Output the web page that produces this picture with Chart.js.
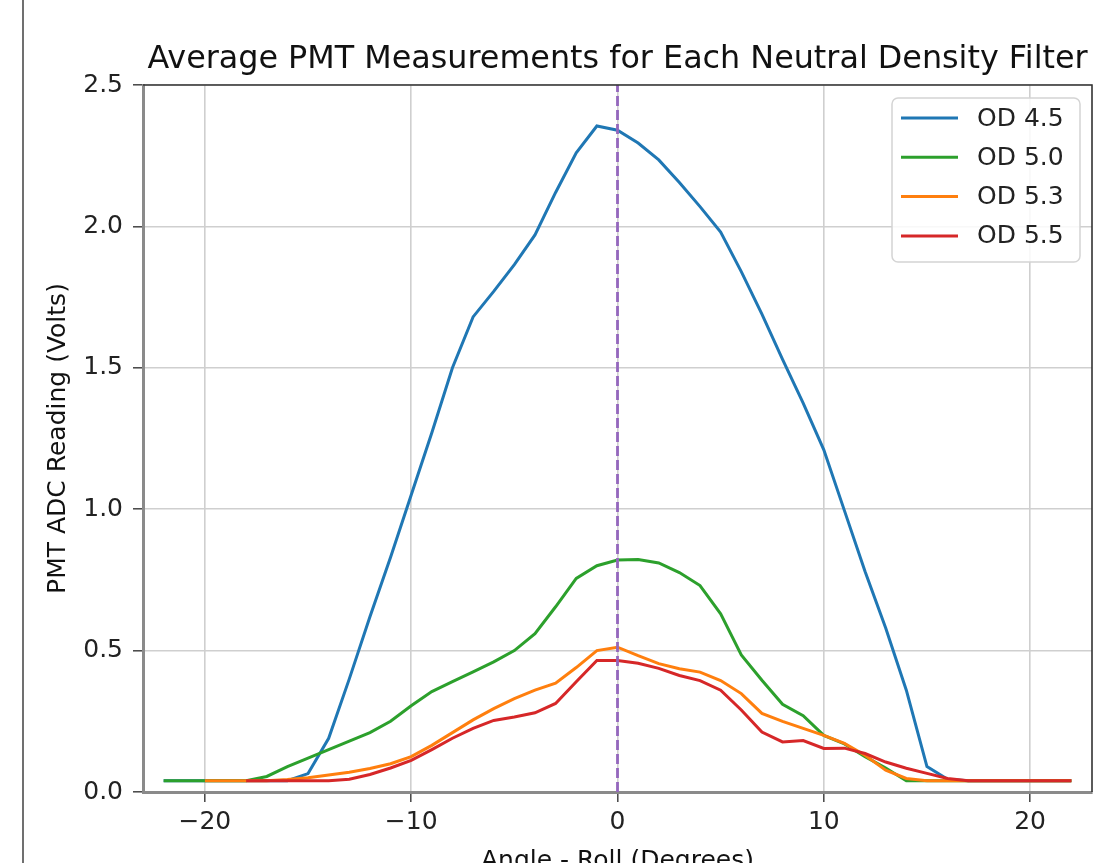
<!DOCTYPE html>
<html><head><meta charset="utf-8">
<script src="https://cdn.jsdelivr.net/npm/chart.js@4.4.1/dist/chart.umd.min.js"></script>
<style>
html,body{margin:0;padding:0;background:#fff;}
#wrap{position:relative;width:1097px;height:863px;overflow:hidden;background:#fff;}
#edge{position:absolute;left:22px;top:0;width:2px;height:863px;background:#707070;}
canvas{position:absolute;left:0;top:0;}
</style></head><body>
<div id="wrap"><canvas id="c" width="1097" height="863"></canvas><div id="edge"></div></div>
<script>
const angles = [-22,-21,-20,-19,-18,-17,-16,-15,-14,-13,-12,-11,-10,-9,-8,-7,-6,-5,-4,-3,-2,-1,0,1,2,3,4,5,6,7,8,9,10,11,12,13,14,15,16,17,18,19,20,21,22];
const od45 = [0.04,0.04,0.04,0.04,0.04,0.04,0.04,0.065,0.19,0.40,0.62,0.83,1.05,1.27,1.50,1.68,1.77,1.865,1.97,2.12,2.26,2.355,2.34,2.295,2.235,2.155,2.07,1.98,1.84,1.69,1.53,1.375,1.21,0.995,0.78,0.58,0.36,0.09,0.045,0.04,0.04,0.04,0.04,0.04,0.04];
const od50 = [0.04,0.04,0.04,0.04,0.04,0.055,0.09,0.12,0.15,0.18,0.21,0.25,0.305,0.355,0.39,0.425,0.46,0.50,0.56,0.655,0.755,0.80,0.82,0.822,0.81,0.776,0.73,0.63,0.485,0.395,0.31,0.27,0.20,0.17,0.125,0.085,0.04,0.04,0.04,0.04,0.04,0.04,0.04,0.04,0.04];
const od53 = [null,null,0.04,0.04,0.04,0.04,0.044,0.05,0.06,0.07,0.083,0.10,0.125,0.165,0.21,0.255,0.295,0.33,0.36,0.385,0.44,0.50,0.512,0.482,0.454,0.436,0.424,0.394,0.348,0.278,0.25,0.225,0.20,0.172,0.13,0.077,0.048,0.04,0.04,0.04,0.04,0.04,0.04,0.04,0.04];
const od55 = [null,null,null,null,0.04,0.04,0.04,0.04,0.04,0.045,0.062,0.085,0.112,0.15,0.19,0.225,0.253,0.265,0.28,0.313,0.39,0.465,0.465,0.455,0.437,0.412,0.394,0.36,0.29,0.212,0.177,0.182,0.154,0.155,0.136,0.106,0.084,0.066,0.048,0.04,0.04,0.04,0.04,0.04,0.04];
const seriesNames = ['OD 4.5','OD 5.0','OD 5.3','OD 5.5'];
const seriesColors = ['#1f77b4','#2ca02c','#ff7f0e','#d62728'];
const xTicks = [-20,-10,0,10,20];
const yTicks = [0.0,0.5,1.0,1.5,2.0,2.5];
const centerAngle = [0, 0];
const centerSpan = [0, 2.5];
const titleText = 'Average PMT Measurements for Each Neutral Density Filter';
const xLabel = 'Angle - Roll (Degrees)';
const yLabel = 'PMT ADC Reading (Volts)';

const FONT = "'DejaVu Sans', sans-serif";
function pts(vals){ return angles.map((a,i)=>({x:a,y:vals[i]})); }
const allSeries = [od45, od50, od53, od55];
const datasets = allSeries.map((s,i)=>({
  label: seriesNames[i], data: pts(s), borderColor: seriesColors[i], backgroundColor: seriesColors[i],
  borderWidth: 3, pointRadius: 0, tension: 0, spanGaps: false, order: 4 - i, fill: false
}));
datasets.push({label:'_center', data: centerAngle.map((a,i)=>({x:a,y:centerSpan[i]})), borderColor:'#9467bd',
  borderWidth: 2.8, borderDash:[10,4], pointRadius:0, order:0, fill:false});

const decor = {
  id:'decor',
  afterDatasetsDraw(chart){
    const {ctx, chartArea:a} = chart;
    ctx.save();
    ctx.strokeStyle = '#333'; ctx.lineWidth = 1.6;
    ctx.beginPath(); ctx.moveTo(a.left, a.top); ctx.lineTo(a.right, a.top); ctx.lineTo(a.right, a.bottom); ctx.stroke();
    const bw = 188, bh = 164;
    const bx = a.right - 12 - bw, by = a.top + 13;
    ctx.fillStyle = 'rgba(255,255,255,0.85)';
    ctx.strokeStyle = '#d4d4d4'; ctx.lineWidth = 1.5;
    ctx.beginPath(); ctx.roundRect(bx, by, bw, bh, 6); ctx.fill(); ctx.stroke();
    ctx.font = '25px ' + FONT; ctx.textBaseline = 'middle'; ctx.textAlign = 'left';
    seriesNames.forEach((n,i)=>{
      const yy = by + 20 + i*39.3;
      ctx.strokeStyle = seriesColors[i]; ctx.lineWidth = 3;
      ctx.beginPath(); ctx.moveTo(bx+9, yy); ctx.lineTo(bx+66, yy); ctx.stroke();
      ctx.fillStyle = '#222'; ctx.fillText(n, bx+85, yy+1);
    });
    ctx.fillStyle = '#111'; ctx.textAlign = 'center'; ctx.textBaseline = 'alphabetic';
    ctx.font = '31.8px ' + FONT;
    ctx.fillText(titleText, (a.left+a.right)/2, 68);
    ctx.font = '25px ' + FONT;
    ctx.fillText(xLabel, (a.left+a.right)/2, 868);
    ctx.translate(65, (a.top+a.bottom)/2); ctx.rotate(-Math.PI/2);
    ctx.fillText(yLabel, 0, 0);
    ctx.restore();
  }
};

new Chart(document.getElementById('c'), {
  type:'line',
  data:{ datasets },
  options:{
    responsive:false, devicePixelRatio:1, animation:false,
    layout:{ padding:{ left:0, right:5, top:85, bottom:0 } },
    plugins:{ legend:{display:false}, tooltip:{enabled:false}, title:{display:false} },
    scales:{
      x:{ type:'linear', min:-23, max:23,
        afterFit(s){ s.height = 71; },
        afterBuildTicks(s){ s.ticks = xTicks.map(v=>({value:v})); },
        ticks:{ includeBounds:false, padding:5, color:'#222', font:{family:FONT,size:25},
          callback:(v)=> v<0 ? '\u2212'+Math.abs(v) : String(v), maxRotation:0 },
        grid:{ color:'#cfcfcf', lineWidth:1.6, tickLength:10, tickColor:'#444', tickWidth:1.5 },
        border:{ color:'#8a8a8a', width:3 }
      },
      y:{ type:'linear', min:0, max:2.5,
        afterFit(s){ s.width = 143; },
        afterBuildTicks(s){ s.ticks = yTicks.map(v=>({value:v})); },
        ticks:{ padding:10, color:'#222', font:{family:FONT,size:25}, callback:(v)=>Number(v).toFixed(1) },
        grid:{ color:'#cfcfcf', lineWidth:1.6, tickLength:10, tickColor:'#444', tickWidth:1.5 },
        border:{ color:'#8a8a8a', width:3 }
      }
    }
  },
  plugins:[decor]
});
</script></body></html>
